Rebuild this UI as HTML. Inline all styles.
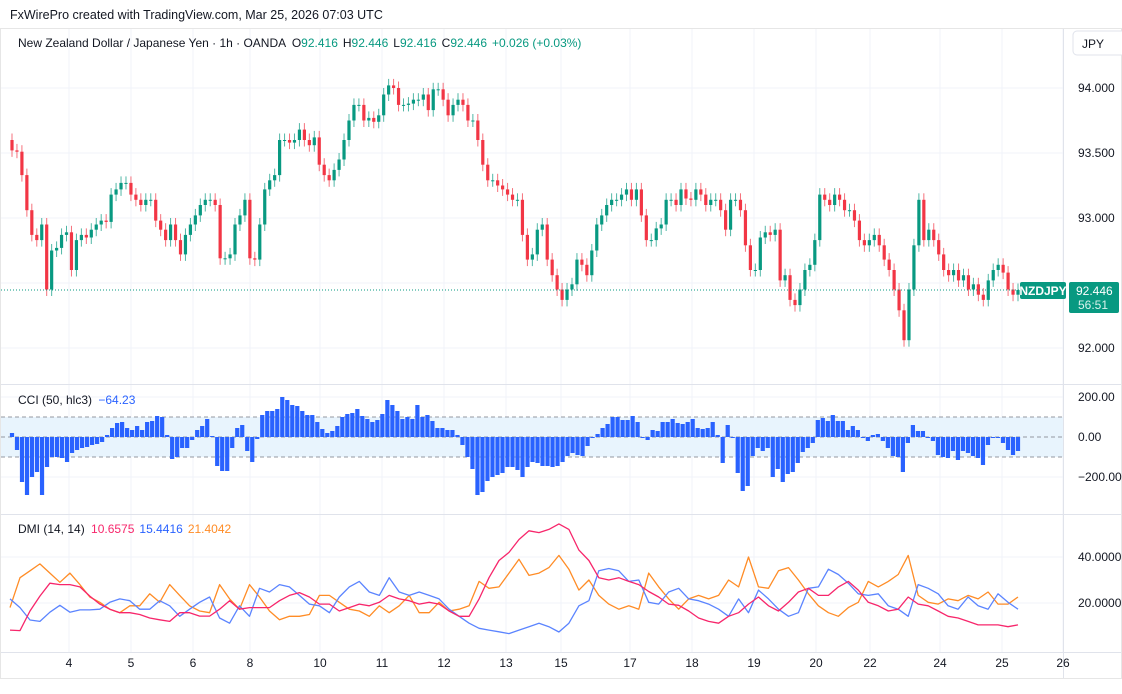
<!DOCTYPE html>
<html><head><meta charset="utf-8">
<style>
html,body{margin:0;padding:0;background:#fff;}
body{width:1122px;height:689px;overflow:hidden;font-family:"Liberation Sans",sans-serif;position:relative;}
svg text{font-family:"Liberation Sans",sans-serif;}
</style></head>
<body>
<svg id="chart" width="1122" height="689" viewBox="0 0 1122 689" xmlns="http://www.w3.org/2000/svg">
  <text x="10" y="19" font-size="12.5" fill="#131722">FxWirePro created with TradingView.com, Mar 25, 2026 07:03 UTC</text>
  <rect x="0.5" y="28.5" width="1121" height="650" fill="#fff" stroke="#e6e6e6"/>
  <g id="grid"></g>
  <line x1="1063.5" y1="29" x2="1063.5" y2="678" stroke="#e0e3eb"/>
  <line x1="1" y1="384.5" x2="1121" y2="384.5" stroke="#e0e3eb"/>
  <line x1="1" y1="514.5" x2="1121" y2="514.5" stroke="#e0e3eb"/>
  <line x1="1" y1="652.5" x2="1121" y2="652.5" stroke="#e0e3eb"/>
  <rect x="1073" y="31" width="60" height="24" rx="4" fill="#fff" stroke="#e0e3eb"/>
  <text x="1082" y="48" font-size="12" fill="#131722">JPY</text>
  <g id="cciBand"></g>
  <g id="candles"></g>
  <g id="cciBars"></g>
  <g id="dmiLines"></g>
  <g id="axes"></g>
  <text x="18" y="47" font-size="12" fill="#131722">New Zealand Dollar / Japanese Yen · 1h · OANDA <tspan dx="3">O</tspan><tspan fill="#089981">92.416</tspan><tspan dx="5">H</tspan><tspan fill="#089981">92.446</tspan><tspan dx="5">L</tspan><tspan fill="#089981">92.416</tspan><tspan dx="5">C</tspan><tspan fill="#089981">92.446</tspan><tspan dx="5" fill="#089981">+0.026 (+0.03%)</tspan></text>
  <text x="18" y="404" font-size="12" fill="#131722">CCI (50, hlc3) <tspan dx="3" fill="#2962ff">−64.23</tspan></text>
  <text x="18" y="533" font-size="12" fill="#131722">DMI (14, 14) <tspan dx="3" fill="#f7266b">10.6575</tspan><tspan dx="5" fill="#2962ff">15.4416</tspan><tspan dx="5" fill="#ff8c26">21.4042</tspan></text>
</svg>
<script>
// ---- price data (1h closes, opens = previous close) ----
const firstOpen = 93.60;
const closes = [93.52,93.51,93.33,93.06,92.87,92.83,92.95,92.45,92.75,92.77,92.87,92.89,92.60,92.83,92.87,92.85,92.91,92.95,92.98,92.97,93.18,93.22,93.27,93.27,93.18,93.14,93.10,93.14,93.14,92.98,92.91,92.83,92.95,92.83,92.72,92.87,92.95,93.02,93.10,93.14,93.14,93.10,92.69,92.69,92.72,92.95,93.02,93.14,92.69,92.68,92.95,93.22,93.29,93.33,93.60,93.60,93.58,93.60,93.68,93.60,93.56,93.62,93.41,93.33,93.29,93.37,93.45,93.60,93.75,93.87,93.87,93.75,93.77,
93.74,93.79,93.95,94.02,94.00,93.87,93.87,93.88,93.91,93.91,93.95,93.83,93.99,93.99,93.91,93.79,93.87,93.91,93.87,93.75,93.75,93.60,93.41,93.29,93.29,93.25,93.22,93.18,93.14,93.14,92.87,92.68,92.72,92.91,92.95,92.68,92.56,92.45,92.37,92.45,92.49,92.68,92.64,92.56,92.75,92.95,93.02,93.10,93.14,93.14,93.18,93.22,93.14,93.22,93.02,92.83,92.83,92.92,92.95,93.14,93.14,93.10,93.22,93.15,93.14,93.22,93.18,93.10,93.14,93.14,93.06,92.91,93.14,
93.14,93.06,92.79,92.60,92.60,92.85,92.89,92.87,92.91,92.52,92.56,92.37,92.33,92.45,92.60,92.64,92.83,93.18,93.14,93.10,93.18,93.14,93.06,93.06,92.98,92.83,92.79,92.83,92.87,92.79,92.68,92.60,92.45,92.29,92.06,92.45,92.79,93.14,92.83,92.91,92.83,92.72,92.60,92.56,92.60,92.52,92.56,92.45,92.49,92.41,92.37,92.52,92.60,92.64,92.58,92.45,92.41,92.446];
const priceTicks = [94.0, 93.5, 93.0, 92.5, 92.0];
const priceTickLabels = ["94.000","93.500","93.000","","92.000"];
const lastPrice = 92.446;

// ---- CCI (50, hlc3) ----
const cci = [20,-65,-225,-290,-200,-175,-290,-150,-100,-100,-105,-125,-80,-65,-55,-50,-40,-35,-25,10,45,70,75,45,35,55,35,75,80,105,100,10,-110,-100,-55,-55,-15,35,55,90,5,-145,-170,-170,-55,45,60,-70,-125,-10,110,130,130,140,200,185,160,155,130,110,110,75,40,20,30,55,100,115,120,140,105,90,75,85,115,185,160,130,90,100,90,160,100,110,80,45,45,35,35,10,-40,-100,-160,-290,-275,-220,-200,-190,-180,-150,-150,-165,-200,-150,-125,-130,-145,-145,-150,-145,-125,-95,-80,-90,-95,-45,-5,15,45,65,100,100,85,85,105,75,-5,-15,35,30,75,75,90,70,65,75,90,45,40,45,75,10,-130,60,-5,-180,-270,-245,-95,-55,-70,-55,-200,-160,-225,-185,-175,-130,-75,-55,-30,85,95,80,110,80,80,35,55,35,-5,-20,10,15,-20,-55,-95,-100,-175,-30,60,30,30,-5,-20,-90,-100,-105,-70,-115,-70,-80,-95,-105,-140,-40,-5,-5,-30,-65,-90,-70];
const cciTicks = [200, 0, -200];
const cciTickLabels = ["200.00","0.00","−200.00"];

// ---- DMI (14,14) ----
const dmiPink = [8.2,8,16.5,23,28.6,28,28,27,23,19.5,17.3,15.8,15.8,15,13.5,12.7,12,15.8,15.8,14.3,14.3,17.3,21,17.3,18,18,18,21,23.3,24.5,22.6,19.5,19.5,16.5,18,19.5,18.8,20.3,23.3,21.8,21,19.5,20.3,19.5,16.5,14.2,14.2,21.8,31,38.5,42,47.6,51.4,50.6,52,54.4,52,43,38.5,31,30,31,29.4,28,25,22.6,19.5,19,16.5,13.5,12,11.2,14.2,15.8,19.5,22.6,18.8,16.5,20.3,24.8,26.4,23.3,23.3,27,29.4,25.6,20.3,18.8,16.5,17.3,22.6,19.5,18.8,16.5,14.2,13.5,12,10.5,10.5,10.5,9.7,10.5];
const dmiBlue = [21.8,18,12.6,12,16,19,16,17,17,17.3,20.3,21.8,21,17.3,17.3,21,18.8,14.2,17.3,20.3,22.6,13.5,11.2,18.8,14.2,26.4,24.8,28,27,23.3,19.5,18.8,15.8,22.6,27,29.4,24.8,23.3,31,24.8,23.3,24.8,23.3,21.8,17.3,14.2,11.2,9,8.2,7.5,6.7,8.2,9.7,11.2,9.7,7.4,11.2,18.8,21,34,35,34,29.4,30,20.3,19.5,24.8,26.4,21.8,21,19.5,17.3,14.2,21.8,15.8,25.6,21.8,17.3,14.2,15.8,26.4,27,34.7,32.4,28.6,24,23.3,24,18.8,17.3,14.2,28,26.4,24,18.8,17.3,22.6,18.8,17.3,24,20.3,17.3];
const dmiOrange = [18,31,34,37,33,29,33,28,22.6,20.3,17.3,15.8,18.8,18.8,24,20.3,28,23.3,18.8,16.5,15.8,28,21.8,17.3,28,22.6,16.5,12.7,14.2,14.2,15,23.3,23.3,20.3,17.3,16.5,14.2,18.8,15.8,18.8,23.3,15.8,15.8,20.3,16.5,17.3,18.8,29.4,26.4,27,33,39,32,33,35.4,40.7,34.7,25.6,30,23.3,19.5,17.3,18.8,17.3,33,27,21.8,17.3,21.8,23.3,21.8,23.3,30,27,40,27,26.4,34,35.4,30,24,18.8,15.8,14.2,18,20.3,29.4,27,29.4,32.4,40.7,23.3,20.3,19.5,21.8,21,23.3,21.8,24.8,19.5,19.5,22.6];
const dmiTicks = [40, 20];
const dmiTickLabels = ["40.0000","20.0000"];

// ---- time axis ----
const dayLabels = ["4","5","6","8","10","11","12","13","15","17","18","19","20","22","24","25","26"];
const dayBarIndex = [11.4,23.8,36.2,47.6,61.6,74,86.4,98.8,109.8,123.6,136,148.4,160.8,171.6,185.6,198,210.2];

const NS = "http://www.w3.org/2000/svg";
function mk(tag, attrs, parent){const e=document.createElementNS(NS,tag);for(const k in attrs)e.setAttribute(k,attrs[k]);parent.appendChild(e);return e;}

const X0 = 12, X1 = 1018;
const nBars = closes.length;
const step = (X1 - X0) / (nBars - 1);
function xBar(i){return X0 + i*step;}
function yPrice(p){return 88 + (94.0 - p)*130;}
function yCci(v){return 437 - v*0.2;}
function yDmi(v){return 649 - v*2.3;}

const grid = document.getElementById('grid');
const axes = document.getElementById('axes');

dayLabels.forEach((lab,i)=>{
  const x = X0 + dayBarIndex[i]*5;
  const gl = mk('line',{x1:x,y1:29,x2:x,y2:652,stroke:'#f0f3fa'},grid);
  
  
  const t = mk('text',{x:x,y:667,'font-size':12,fill:'#131722','text-anchor':'middle'},axes);
  t.textContent = lab;
  
  
});
priceTicks.forEach((p,i)=>{
  const y = yPrice(p);
  const gl = mk('line',{x1:1,y1:y,x2:1063,y2:y,stroke:'#f0f3fa'},grid);
  
  
  if(priceTickLabels[i]){
    const t = mk('text',{x:1078,y:y+4,'font-size':12,fill:'#131722'},axes);
    t.textContent = priceTickLabels[i];
    
    
  }
});
cciTicks.forEach((v,i)=>{
  const y = yCci(v);
  const gl = mk('line',{x1:1,y1:y,x2:1063,y2:y,stroke:'#f0f3fa'},grid);
  
  
  const t = mk('text',{x:1078,y:y+4,'font-size':12,fill:'#131722'},axes);
  t.textContent = cciTickLabels[i];
  
  
});
dmiTicks.forEach((v,i)=>{
  const y = yDmi(v);
  const gl = mk('line',{x1:1,y1:y,x2:1063,y2:y,stroke:'#f0f3fa'},grid);
  
  
  const t = mk('text',{x:1078,y:y+4,'font-size':12,fill:'#131722'},axes);
  t.textContent = dmiTickLabels[i];
  
  
});

const band = document.getElementById('cciBand');
const bandRect = mk('rect',{x:1,y:yCci(100),width:1062,height:yCci(-100)-yCci(100),fill:'#e8f4fd'},band);


[100,0,-100].forEach(v=>{
  const l = mk('line',{x1:1,y1:yCci(v),x2:1063,y2:yCci(v),stroke:'#9598a1','stroke-dasharray':'4 3','stroke-width':1},band);
  
  
});

const cg = document.getElementById('candles');
const wick = 0.05;
let prev = firstOpen;
closes.forEach((c,i)=>{
  const o = prev; prev = c;
  const up = c >= o;
  const col = up ? '#089981' : '#f23645';
  const x = xBar(i);
  const hi = Math.max(o,c)+wick, lo = Math.min(o,c)-wick;
  const w = mk('line',{x1:x,y1:yPrice(hi),x2:x,y2:yPrice(lo),stroke:col,'stroke-width':1,opacity:0.7},cg);
  
  
  const yt = yPrice(Math.max(o,c)), yb = yPrice(Math.min(o,c));
  const b = mk('rect',{x:x-1.6,y:yt,width:3.2,height:Math.max(1,yb-yt),fill:col},cg);
  
  
});

const yl = yPrice(lastPrice);
const pl = mk('line',{x1:1,y1:yl,x2:1063,y2:yl,stroke:'#089981','stroke-dasharray':'1 2','stroke-width':1},axes);


const sb = mk('rect',{x:1020,y:yl-8,width:46,height:17,rx:2,fill:'#089981'},axes);


const st = mk('text',{x:1043,y:yl+5,'font-size':12,fill:'#fff','text-anchor':'middle','font-weight':'bold'},axes);
st.textContent='NZDJPY';


const pb = mk('rect',{x:1069,y:yl-8,width:50,height:31,rx:2,fill:'#089981'},axes);


const pt = mk('text',{x:1076,y:yl+5,'font-size':12,fill:'#fff'},axes);
pt.textContent = lastPrice.toFixed(3);


const ct = mk('text',{x:1078,y:yl+19,'font-size':12,fill:'#d9f2ec'},axes);
ct.textContent = '56:51';



const cb = document.getElementById('cciBars');
const cstep = (X1 - X0) / (cci.length - 1);
cci.forEach((v,i)=>{
  const x = X0 + i*cstep;
  const y0 = yCci(0), y1 = yCci(v);
  const r = mk('rect',{x:x-cstep/2+0.4,y:Math.min(y0,y1),width:cstep-0.8,height:Math.max(1,Math.abs(y1-y0)),fill:'#2962ff'},cb);
  
  
});

const dg = document.getElementById('dmiLines');
function drawLine(arr,col,name){
  const s = (X1 - 10) / (arr.length - 1);
  const pts = arr.map((v,i)=>(10+i*s).toFixed(1)+','+yDmi(v).toFixed(1)).join(' ');
  const p = mk('polyline',{points:pts,fill:'none',stroke:col,'stroke-width':1.3,'stroke-linejoin':'round'},dg);
  
  
}
drawLine(dmiOrange,'#ff8c26','dmi-adx-line');
drawLine(dmiBlue,'#5b84ff','dmi-plus-line');
drawLine(dmiPink,'#f7266b','dmi-minus-line');
</script>
</body></html>
